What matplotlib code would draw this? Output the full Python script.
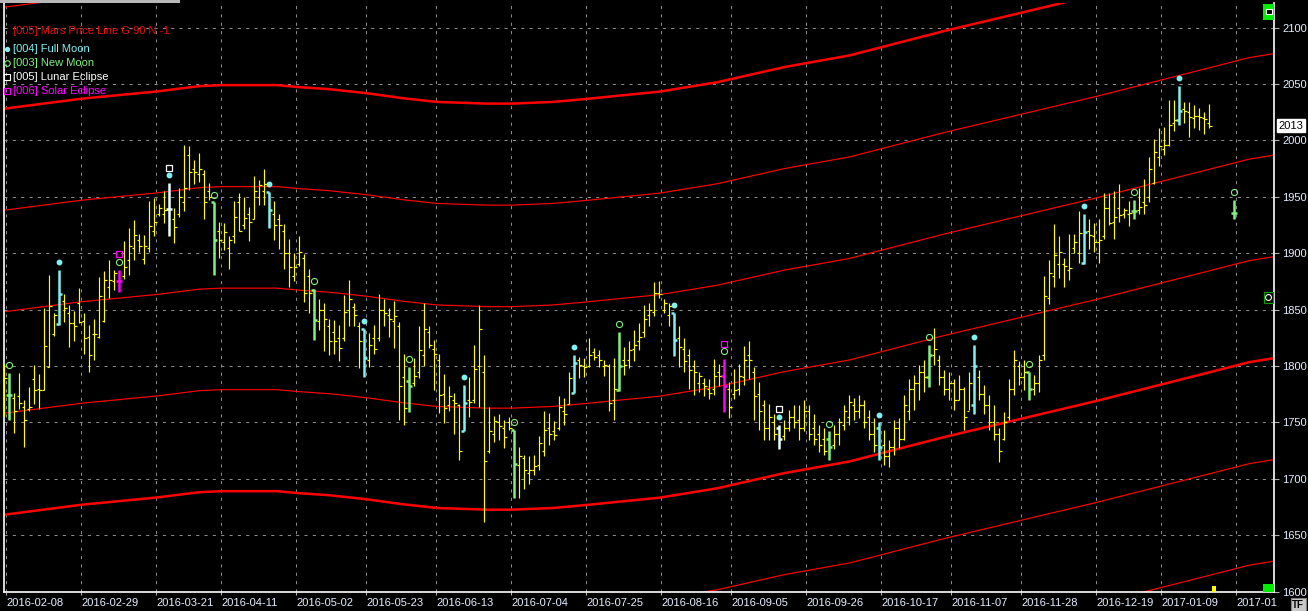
import numpy as np
import matplotlib
matplotlib.use('Agg')
import matplotlib.pyplot as plt
from matplotlib.collections import LineCollection
from matplotlib.transforms import offset_copy, blended_transform_factory
from matplotlib.patches import Rectangle

plt.rcParams['font.family'] = ['Liberation Sans', 'DejaVu Sans']

# daily OHLC, first bar is one session before 2016-02-08
first_bar = -1
opens = [1756, 1774, 1772, 1773, 1764, 1762, 1788, 1780, 1779, 1799, 1828, 1837, 1858, 1847, 1838, 1856, 1840, 1826, 1828, 1826,
         1840, 1870, 1875, 1875, 1880, 1894, 1905, 1912, 1895, 1905, 1920, 1935, 1935, 1939, 1930, 1935, 1945, 1987, 1975, 1970,
         1970, 1955, 1945, 1920, 1910, 1905, 1915, 1945, 1925, 1935, 1930, 1950, 1955, 1954, 1935, 1930, 1920, 1900, 1880, 1890,
         1896, 1880, 1867, 1840, 1850, 1835, 1830, 1825, 1825, 1850, 1852, 1835, 1833, 1805, 1825, 1825, 1850, 1845, 1840, 1835,
         1790, 1787, 1785, 1795, 1810, 1830, 1815, 1805, 1775, 1765, 1770, 1765, 1742, 1770, 1770, 1800, 1795, 1725, 1740, 1750,
         1745, 1750, 1743, 1712, 1718, 1705, 1708, 1712, 1725, 1745, 1742, 1745, 1760, 1766, 1776, 1805, 1800, 1800, 1812, 1810,
         1800, 1800, 1770, 1779, 1805, 1805, 1815, 1822, 1830, 1845, 1848, 1865, 1850, 1845, 1847, 1825, 1815, 1810, 1800, 1785,
         1785, 1780, 1780, 1795, 1791, 1780, 1775, 1780, 1790, 1810, 1795, 1775, 1765, 1745, 1750, 1745, 1738, 1745, 1755, 1752,
         1745, 1760, 1745, 1740, 1735, 1735, 1730, 1740, 1748, 1755, 1765, 1760, 1765, 1755, 1740, 1745, 1730, 1720, 1728, 1745,
         1735, 1760, 1780, 1785, 1795, 1790, 1810, 1805, 1790, 1780, 1785, 1770, 1780, 1760, 1765, 1790, 1775, 1765, 1750, 1740,
         1735, 1755, 1780, 1800, 1790, 1795, 1780, 1785, 1810, 1860, 1880, 1890, 1890, 1885, 1905, 1900, 1891, 1920, 1915, 1910,
         1915, 1940, 1928, 1940, 1935, 1935, 1937, 1938, 1945, 1950, 1962, 1985, 1992, 1996, 2015, 2018, 2028, 2025, 2020, 2022,
         2020, 2015]
highs = [1802, 1794, 1776, 1794, 1770, 1781, 1801, 1793, 1851, 1881, 1847, 1885, 1864, 1854, 1849, 1869, 1847, 1836, 1842, 1879,
         1884, 1894, 1885, 1885, 1911, 1922, 1929, 1917, 1916, 1946, 1949, 1944, 1955, 1962, 1940, 1958, 1996, 1995, 1983, 1989,
         1974, 1962, 1945, 1928, 1927, 1915, 1946, 1953, 1950, 1941, 1968, 1965, 1975, 1954, 1946, 1935, 1926, 1913, 1900, 1915,
         1899, 1886, 1868, 1859, 1856, 1842, 1841, 1836, 1863, 1876, 1856, 1839, 1833, 1829, 1836, 1864, 1859, 1851, 1858, 1839,
         1811, 1799, 1807, 1835, 1856, 1835, 1823, 1811, 1793, 1782, 1776, 1766, 1783, 1790, 1819, 1854, 1810, 1764, 1756, 1757,
         1752, 1755, 1743, 1728, 1721, 1720, 1721, 1738, 1760, 1758, 1751, 1773, 1772, 1795, 1810, 1808, 1807, 1825, 1816, 1814,
         1805, 1802, 1807, 1830, 1817, 1822, 1832, 1838, 1854, 1856, 1874, 1875, 1859, 1856, 1847, 1835, 1825, 1815, 1805, 1795,
         1789, 1788, 1806, 1802, 1806, 1786, 1797, 1802, 1818, 1822, 1799, 1786, 1770, 1766, 1757, 1748, 1752, 1761, 1765, 1765,
         1770, 1765, 1757, 1748, 1745, 1742, 1748, 1754, 1765, 1774, 1772, 1774, 1770, 1761, 1754, 1750, 1743, 1734, 1752, 1754,
         1774, 1788, 1792, 1801, 1805, 1819, 1834, 1810, 1796, 1795, 1788, 1792, 1781, 1795, 1819, 1796, 1783, 1774, 1765, 1745,
         1759, 1788, 1814, 1804, 1805, 1795, 1792, 1810, 1880, 1894, 1926, 1915, 1896, 1917, 1917, 1937, 1935, 1930, 1927, 1930,
         1953, 1953, 1955, 1961, 1940, 1946, 1947, 1958, 1966, 1985, 2001, 2011, 2012, 2036, 2036, 2048, 2034, 2034, 2031, 2029,
         2025, 2032]
lows = [1756, 1752, 1741, 1762, 1728, 1760, 1766, 1762, 1779, 1799, 1827, 1836, 1839, 1817, 1822, 1838, 1811, 1795, 1805, 1825,
        1839, 1860, 1867, 1866, 1877, 1881, 1894, 1901, 1890, 1901, 1915, 1933, 1927, 1915, 1909, 1932, 1937, 1956, 1961, 1963,
        1930, 1947, 1881, 1896, 1903, 1886, 1909, 1920, 1921, 1911, 1930, 1943, 1943, 1922, 1912, 1904, 1886, 1870, 1875, 1889,
        1857, 1847, 1823, 1832, 1813, 1810, 1811, 1804, 1822, 1835, 1835, 1798, 1790, 1799, 1811, 1822, 1835, 1826, 1816, 1752,
        1748, 1759, 1782, 1789, 1800, 1816, 1779, 1758, 1749, 1760, 1740, 1717, 1742, 1755, 1767, 1764, 1662, 1723, 1733, 1734,
        1727, 1743, 1683, 1683, 1691, 1695, 1703, 1708, 1720, 1730, 1734, 1743, 1748, 1766, 1776, 1789, 1790, 1799, 1805, 1799,
        1791, 1760, 1752, 1778, 1792, 1798, 1804, 1814, 1826, 1835, 1844, 1860, 1847, 1835, 1809, 1799, 1795, 1780, 1774, 1777,
        1773, 1771, 1774, 1782, 1759, 1754, 1771, 1774, 1783, 1788, 1752, 1743, 1734, 1734, 1734, 1726, 1734, 1742, 1745, 1734,
        1742, 1734, 1730, 1724, 1721, 1717, 1726, 1730, 1743, 1748, 1752, 1754, 1745, 1734, 1724, 1717, 1712, 1710, 1721, 1727,
        1734, 1752, 1761, 1770, 1777, 1781, 1801, 1783, 1774, 1770, 1761, 1770, 1743, 1761, 1757, 1770, 1757, 1743, 1734, 1715,
        1734, 1752, 1774, 1783, 1779, 1770, 1774, 1777, 1805, 1855, 1870, 1878, 1870, 1876, 1900, 1891, 1890, 1904, 1901, 1891,
        1913, 1925, 1913, 1928, 1931, 1924, 1930, 1935, 1935, 1945, 1961, 1977, 1987, 1995, 2008, 2014, 2015, 2003, 2011, 2009,
        2006, 2011]
closes = [1789, 1774, 1760, 1767, 1752, 1764, 1779, 1779, 1818, 1853, 1845, 1864, 1851, 1838, 1835, 1839, 1825, 1810, 1828, 1862,
          1876, 1876, 1882, 1875, 1888, 1906, 1916, 1906, 1906, 1924, 1928, 1940, 1938, 1939, 1923, 1950, 1958, 1972, 1972, 1975,
          1945, 1950, 1912, 1912, 1919, 1912, 1932, 1920, 1931, 1928, 1955, 1960, 1961, 1938, 1925, 1925, 1900, 1888, 1888, 1901,
          1865, 1865, 1841, 1850, 1842, 1822, 1822, 1816, 1848, 1859, 1845, 1822, 1807, 1819, 1815, 1850, 1847, 1842, 1844, 1782,
          1763, 1782, 1791, 1814, 1833, 1819, 1811, 1774, 1763, 1773, 1767, 1725, 1767, 1768, 1797, 1833, 1716, 1742, 1751, 1747,
          1737, 1745, 1713, 1720, 1708, 1708, 1711, 1732, 1743, 1740, 1739, 1764, 1757, 1789, 1803, 1801, 1799, 1810, 1808, 1805,
          1801, 1767, 1780, 1800, 1801, 1814, 1819, 1826, 1842, 1850, 1865, 1864, 1856, 1853, 1823, 1817, 1804, 1796, 1795, 1791,
          1782, 1776, 1791, 1791, 1782, 1764, 1779, 1791, 1805, 1805, 1773, 1760, 1745, 1755, 1740, 1735, 1745, 1755, 1750, 1745,
          1760, 1740, 1735, 1730, 1725, 1728, 1740, 1750, 1760, 1768, 1760, 1765, 1750, 1740, 1730, 1728, 1720, 1728, 1745, 1735,
          1765, 1780, 1785, 1795, 1790, 1810, 1815, 1790, 1780, 1785, 1770, 1780, 1755, 1785, 1800, 1775, 1765, 1750, 1740, 1725,
          1750, 1780, 1805, 1790, 1795, 1780, 1785, 1805, 1862, 1882, 1898, 1901, 1889, 1887, 1910, 1918, 1919, 1916, 1910, 1912,
          1940, 1927, 1932, 1934, 1938, 1936, 1937, 1941, 1943, 1975, 1990, 1995, 1996, 2014, 2018, 2026, 2026, 2021, 2022, 2021,
          2019, 2013]

full_moon = [10, 32, 52, 71, 91, 113, 133, 154, 174, 193, 215, 234]
new_moon = [0, 22, 41, 61, 80, 101, 122, 143, 164, 184, 204, 225]
lunar_eclipse = [32, 154]
solar_eclipse = [22, 143]

# projected new moon mark after the last session
future_bar = 245
future_ohlc = (1936, 1947, 1930, 1936)

# Mars price line (base level)
mars_bar = [-1.2, 14.5, 29.5, 38, 42.5, 53.5, 58, 64, 71.5, 78.7, 85.5, 95.5, 100.5, 108.7, 115.5, 122, 130,
            141.5, 155, 168, 187, 206, 217.5, 239.5, 248, 253]
mars_price = [1668, 1677, 1683.4, 1688.1, 1689, 1689, 1687.2, 1685.4, 1681.8, 1677.4, 1674.1, 1672.6, 1672.6,
              1674.1, 1676.8, 1679.7, 1683.2, 1691.5, 1705, 1715.3, 1737, 1757, 1769.1, 1793.8, 1803.4, 1807]
mars_offsets = [-180, -90, 0, 90, 180, 270, 360, 450]

tick_bars = [0, 15, 30, 43, 58, 72, 86, 101, 116, 131, 145, 160, 175, 189, 203, 218, 231, 246]
tick_labels = ['2016-02-08', '2016-02-29', '2016-03-21', '2016-04-11', '2016-05-02', '2016-05-23',
               '2016-06-13', '2016-07-04', '2016-07-25', '2016-08-16', '2016-09-05', '2016-09-26',
               '2016-10-17', '2016-11-07', '2016-11-28', '2016-12-19', '2017-01-09', '2017-01']
price_ticks = list(range(1600, 2101, 50))
last_price = 2013

YELLOW = '#ffff00'
CYAN = '#80f0f0'
GREEN = '#80f080'
WHITE = '#e8ffff'
MAGENTA = '#ff00ff'

W, H = 1308, 611
fig = plt.figure(figsize=(W / 100, H / 100), dpi=100, facecolor='black')
ax = fig.add_axes([3.5 / W, 19 / H, 1270.5 / W, 589 / H])
ax.set_facecolor('black')
ax.set_xlim(-1.16, 252.94)
ax.set_ylim(1599.6, 2121.8)

# grid
for t in tick_bars:
    ax.axvline(t - 0.66, color='#8a8a8a', lw=0.75, ls=(0, (3, 5)), zorder=1)
for p in price_ticks:
    ax.axhline(p, color='#8a8a8a', lw=0.75, ls=(0, (3, 5)), zorder=1)

# Mars price lines, a full turn (360) drawn thick
for off in mars_offsets:
    thick = off % 360 == 0
    ax.plot(mars_bar, np.array(mars_price) + off, color='#ff0000',
            lw=1.8 if thick else 0.85, zorder=2)


def bar_style(b):
    if b in lunar_eclipse:
        return WHITE, 1.8, 0.6
    if b in solar_eclipse:
        return MAGENTA, 1.8, 0.6
    if b in full_moon:
        return CYAN, 1.8, 0.6
    if b in new_moon:
        return GREEN, 1.8, 0.6
    return YELLOW, 0.85, 0.45


bars = np.arange(len(closes)) + first_bar
segs, cols, lws = [], [], []
for b, o, h, l, c in zip(bars, opens, highs, lows, closes):
    col, lw, tk = bar_style(b)
    segs += [[(b, l), (b, h)], [(b - tk, o), (b, o)], [(b, c), (b + tk, c)]]
    cols += [col] * 3
    lws += [lw] * 3
fo, fh, fl, fc = future_ohlc
segs += [[(future_bar, fl), (future_bar, fh)], [(future_bar - 0.6, fo), (future_bar, fo)],
         [(future_bar, fc), (future_bar + 0.6, fc)]]
cols += [GREEN] * 3
lws += [1.8] * 3
ax.add_collection(LineCollection(segs, colors=cols, linewidths=lws, capstyle='butt', zorder=3))


def top_of(idx):
    return [highs[b - first_bar] for b in idx]


tier1 = offset_copy(ax.transData, fig=fig, x=0, y=5.6, units='points')
tier2 = offset_copy(ax.transData, fig=fig, x=0, y=11.3, units='points')
ax.plot(full_moon, top_of(full_moon), 'o', ms=3.2, color=CYAN, mec=CYAN, transform=tier1, zorder=4)
ax.plot(new_moon + [future_bar], top_of(new_moon) + [fh], 'o', ms=4.4, mfc='none', mec=GREEN, mew=0.8,
        transform=tier1, zorder=4)
ax.plot(lunar_eclipse, top_of(lunar_eclipse), 's', ms=4.2, mfc='none', mec='white', mew=0.9,
        transform=tier2, zorder=4)
ax.plot(solar_eclipse, top_of(solar_eclipse), 's', ms=4.2, mfc='none', mec=MAGENTA, mew=0.9,
        transform=tier2, zorder=4)

# axes frame
for side in ['left', 'bottom', 'right']:
    ax.spines[side].set_color('white')
    ax.spines[side].set_linewidth(1.2)
ax.spines['top'].set_visible(False)

ax.yaxis.tick_right()
ax.set_yticks(price_ticks)
ax.set_yticklabels([str(p) for p in price_ticks])
ax.tick_params(axis='y', length=3.5, width=0.8, color='#b0b0b0', labelcolor='#e6eeff',
               labelsize=8, pad=2.5)
ax.set_xticks(np.array(tick_bars) - 0.66)
ax.set_xticklabels(tick_labels, ha='left')
ax.tick_params(axis='x', length=2.5, width=0.8, color='#b0b0b0', labelcolor='#e6eeff',
               labelsize=8, pad=1.5)

# last price box
lbl = blended_transform_factory(fig.transFigure, ax.transData)
ax.text(1278.5 / W, last_price, str(last_price), transform=lbl, fontsize=8, color='black',
        va='center', ha='left', clip_on=False, zorder=6,
        bbox=dict(boxstyle='square,pad=0.15', fc='white', ec='white'))

# next-bar marker on the time axis
ax.add_patch(Rectangle((bars[-1] + 0.6, 0), 0.8, 0.011, transform=blended_transform_factory(ax.transData, ax.transAxes),
                       fc=YELLOW, ec='none', clip_on=False, zorder=5))

# pixel overlay for legend and chart widgets
ov = fig.add_axes([0, 0, 1, 1], facecolor='none')
ov.set_xlim(0, W)
ov.set_ylim(H, 0)
ov.axis('off')

ov.add_patch(Rectangle((0, 0), 180, 2.5, fc='#b8b8b8', ec='none'))
ov.text(13, 31, '[005] Mars Price Line G 90 N -1', color='#e01010', fontsize=8, va='center')
legend_rows = [('[004] Full Moon', CYAN, 'o', CYAN, 3.0),
               ('[003] New Moon', GREEN, 'o', 'none', 4.0),
               ('[005] Lunar Eclipse', 'white', 's', 'none', 4.0),
               ('[006] Solar Eclipse', MAGENTA, 's', 'none', 4.0)]
for k, (txt, col, mk, fc, ms) in enumerate(legend_rows):
    yy = 48.5 + 14 * k
    ov.plot([6.5], [yy], mk, ms=ms, mfc=fc, mec=col, mew=0.8)
    ov.text(13, yy, txt, color=col, fontsize=8, va='center')

ov.add_patch(Rectangle((1263, 4), 11, 16, fc='#00ee00', ec='none'))
ov.add_patch(Rectangle((1265.5, 8.5), 6, 5, fc='black', ec='white', lw=0.8))
ov.add_patch(Rectangle((1263, 584), 11, 8, fc='#00ee00', ec='none'))
ov.add_patch(Rectangle((1263.5, 291.5), 9.5, 11, fc='black', ec='#00a000', lw=0.8))
ov.plot([1268.3], [297], 'o', ms=4.2, mfc='none', mec='white', mew=0.8)
ov.add_patch(Rectangle((1290.5, 598), 15.5, 12.5, fc='#c8c8c8', ec='#808080', lw=0.8, zorder=5))
ov.text(1298.2, 604.5, 'TF', color='black', fontsize=7, ha='center', va='center', fontweight='bold', zorder=6)

fig.savefig('out.png', dpi=100, facecolor='black')
